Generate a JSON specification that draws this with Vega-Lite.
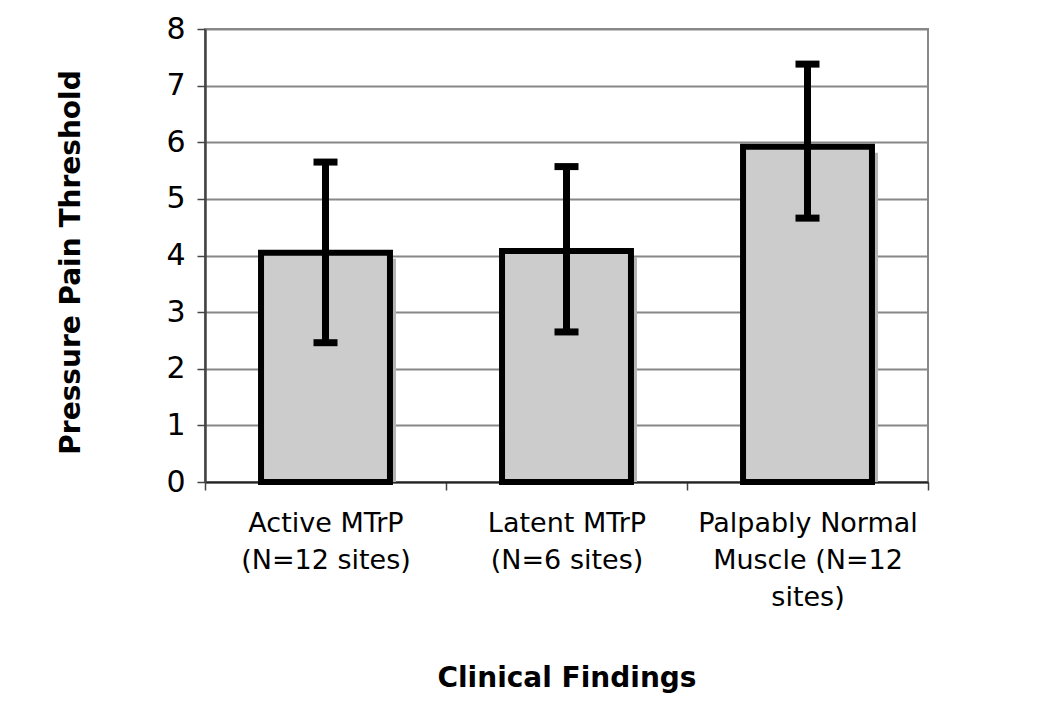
{
  "$schema": "https://vega.github.io/schema/vega-lite/v6.json",
  "width": 723,
  "height": 453,
  "autosize": {"type": "none"},
  "padding": {"left": 205, "top": 29, "right": 122, "bottom": 224},
  "background": "white",
  "config": {
    "font": "DejaVu Sans",
    "view": {"stroke": "#888888", "strokeWidth": 2},
    "axisX": {
      "titleFontSize": 28,
      "titleFontWeight": "bold",
      "titleColor": "black",
      "titlePadding": 54,
      "labelAngle": 0,
      "labelFontSize": 27,
      "labelColor": "black",
      "labelLineHeight": 37,
      "labelPadding": 20,
      "labelLimit": 0,
      "labelOverlap": false,
      "tickBand": "extent",
      "tickSize": 8,
      "tickColor": "#444444",
      "tickWidth": 1.5,
      "domainColor": "#222222",
      "domainWidth": 2
    },
    "axisY": {
      "titleFontSize": 28,
      "titleFontWeight": "bold",
      "titleColor": "black",
      "titlePadding": 80,
      "titleY": 233,
      "labelFontSize": 30,
      "labelColor": "black",
      "labelPadding": 12,
      "labelOverlap": false,
      "labelFlush": false,
      "format": "d",
      "tickSize": 8,
      "tickColor": "#444444",
      "tickWidth": 1.5,
      "domainColor": "#444444",
      "domainWidth": 2.5,
      "grid": true,
      "gridColor": "#888888",
      "gridWidth": 2
    }
  },
  "data": {
    "values": [
      {"finding": "Active MTrP|(N=12 sites)", "mean": 4.05, "low": 2.46, "high": 5.65},
      {"finding": "Latent MTrP|(N=6 sites)", "mean": 4.08, "low": 2.65, "high": 5.57},
      {"finding": "Palpably Normal|Muscle (N=12|sites)", "mean": 5.92, "low": 4.66, "high": 7.38}
    ]
  },
  "encoding": {
    "x": {
      "field": "finding",
      "type": "nominal",
      "sort": null,
      "scale": {"paddingInner": 0, "paddingOuter": 0},
      "axis": {
        "title": "Clinical Findings",
        "labelExpr": "split(datum.label, '|')"
      }
    }
  },
  "layer": [
    {
      "mark": {"type": "bar", "color": "#b4b4b4", "xOffset": 6, "yOffset": 6, "clip": true, "width": {"band": 0.535}},
      "encoding": {
        "y": {
          "field": "mean",
          "type": "quantitative",
          "scale": {"domain": [0, 8], "nice": false},
          "axis": {
            "title": "Pressure Pain Threshold",
            "values": [0, 1, 2, 3, 4, 5, 6, 7, 8]
          }
        }
      }
    },
    {
      "mark": {"type": "bar", "color": "#cccccc", "stroke": "black", "strokeWidth": 6, "width": {"band": 0.535}},
      "encoding": {
        "y": {"field": "mean", "type": "quantitative"}
      }
    },
    {
      "mark": {"type": "rule", "color": "black", "strokeWidth": 7},
      "encoding": {
        "y": {"field": "low", "type": "quantitative"},
        "y2": {"field": "high"}
      }
    },
    {
      "mark": {"type": "tick", "color": "black", "thickness": 7, "size": 24, "opacity": 1},
      "encoding": {
        "y": {"field": "low", "type": "quantitative"}
      }
    },
    {
      "mark": {"type": "tick", "color": "black", "thickness": 7, "size": 24, "opacity": 1},
      "encoding": {
        "y": {"field": "high", "type": "quantitative"}
      }
    }
  ]
}
